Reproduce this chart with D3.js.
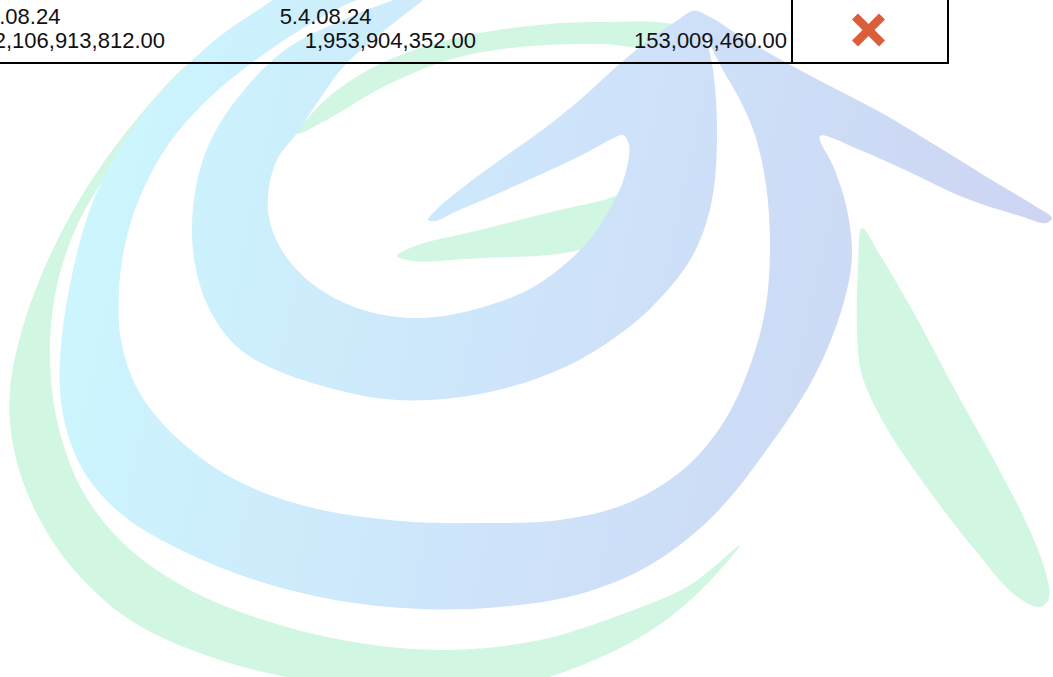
<!DOCTYPE html>
<html>
<head>
<meta charset="utf-8">
<script src="https://cdn.jsdelivr.net/npm/d3@7"></script>
<style>
  html, body { margin: 0; padding: 0; background: #ffffff; overflow: hidden; }
  svg { display: block; }
</style>
</head>
<body>
<svg id="chart" width="1053" height="677"></svg>
<script>
// ---------------- table data ----------------
const columns = ["c0", "c1", "c2"];
const headerRow = ["4.4.08.24", "5.4.08.24", ""];
const valueRow = [2106913812.00, 1953904352.00, 153009460.00];
const statusRow = ["✖"];

// ---------------- watermark logo outlines (decorative) ----------------
const logoGreenOuter = [[222,42],[190,62],[140,115],[95,175],[55,245],[25,320],[10,390],[14,450],[35,510],[70,565],[130,620],[220,660],[320,683],[420,693],[510,687],[580,666],[650,631],[700,591],[740,545],
  [690,585],[620,615],[540,640],[450,650],[360,643],[270,622],[190,590],[125,545],[82,490],[58,425],[50,360],[55,295],[75,230],[110,170],[155,115],[198,72]];
const logoGreenRight = [[862,228],[858,270],[857,330],[862,375],[885,425],[925,485],[975,550],[1015,595],[1040,607],[1049,598],[1045,570],[1025,520],[995,462],[955,390],[915,315],[880,255]];
const logoGreenSpike = [[397,256],[415,246],[480,230],[547,213],[600,201],[645,190],[650,225],[570,252],[480,258],[413,261]];
const logoGreenArc = [[297,134],[315,110],[340,88],[380,64],[440,42],[520,27],[600,22],[680,28],[680,48],[600,44],[520,47],[452,59],[385,86],[330,118]];
const logoBlueOuter = [[290,-8],[258,10],[215,40],[175,78],[140,118],[110,165],[88,215],[72,275],[62,335],[60,390],[68,435],[88,478],[125,517],[185,552],[255,580],[335,600],[420,609],[500,607],[580,594],[650,565],[712,517],[768,448],[815,375],[843,305],[852,255],[846,205],[834,168],[820,136],
  [860,150],[905,170],[965,198],[1020,216],[1046,223],[1052,218],[1035,206],[995,182],[935,145],[880,112],[830,86],[783,61],[740,36],[712,18],[695,11],
  [706,35],[720,65],[740,100],[755,135],[766,185],[770,245],[766,305],[752,360],[725,420],[685,468],[628,503],[560,520],[480,523],[400,521],[305,506],[232,478],[175,436],[138,390],[121,340],[119,290],[126,240],[142,192],[168,145],[205,102],[253,62],[300,30],[345,5],[375,-8]];
const logoBlueInner = [[420,-8],[350,17],[285,50],[240,95],[210,142],[195,192],[193,250],[206,302],[232,342],[265,365],[330,388],[397,400],[480,394],[563,368],[628,328],[665,293],[693,255],[711,205],[717,140],[713,70],[702,25],[695,11],
  [675,22],[645,43],[615,68],[582,98],[545,128],[500,160],[462,188],[438,208],[428,220],
  [436,221],[455,212],[490,197],[535,177],[580,156],[612,139],[623,135],[629,145],
  [625,175],[612,205],[585,245],[535,286],[480,308],[420,318],[363,310],[318,288],[287,258],[271,226],[268,195],[277,160],[297,133],
  [317,103],[345,65],[385,30],[430,-8]];

// ---------------- drawing ----------------
const W = 1053, H = 677;
const svg = d3.select("#chart");

const defs = svg.append("defs");
const grad = defs.append("linearGradient")
  .attr("id", "logoGrad")
  .attr("gradientUnits", "userSpaceOnUse")
  .attr("x1", 60).attr("y1", 200).attr("x2", 1050).attr("y2", 420);
grad.append("stop").attr("offset", 0).attr("stop-color", "#ccf7fe");
grad.append("stop").attr("offset", 0.5).attr("stop-color", "#cee3fa");
grad.append("stop").attr("offset", 1).attr("stop-color", "#cdd3f1");

const outline = d3.line().curve(d3.curveCatmullRomClosed.alpha(0.5));
const logo = svg.append("g").attr("class", "watermark");
const green = "#d1f6e2";
[logoGreenOuter, logoGreenRight, logoGreenSpike, logoGreenArc].forEach(pts => {
  logo.append("path").attr("d", outline(pts)).attr("fill", green);
});
[logoBlueOuter, logoBlueInner].forEach(pts => {
  logo.append("path").attr("d", outline(pts)).attr("fill", "url(#logoGrad)");
});

// table geometry through scales
const colScale = d3.scaleBand().domain(columns).range([-141, 792]).paddingInner(0).paddingOuter(0);
const rowScale = d3.scaleBand().domain(["header", "values"]).range([0, 63]);
const statusScale = d3.scaleBand().domain(["status"]).range([792, 948]);
const fmt = d3.format(",.2f");
const font = "'Liberation Sans', Arial, sans-serif";

const table = svg.append("g").attr("class", "table");

// header row: centred dates
table.selectAll("text.hdr").data(headerRow).join("text")
  .attr("class", "hdr")
  .attr("x", (d, i) => colScale(columns[i]) + colScale.bandwidth() / 2)
  .attr("y", 24)
  .attr("text-anchor", "middle")
  .attr("font-family", font).attr("font-size", 22).attr("fill", "#111")
  .text(d => d);

// value row: right aligned numbers
table.selectAll("text.val").data(valueRow).join("text")
  .attr("class", "val")
  .attr("x", (d, i) => colScale(columns[i]) + colScale.bandwidth() - 5)
  .attr("y", 48)
  .attr("text-anchor", "end")
  .attr("font-family", font).attr("font-size", 22).attr("fill", "#111")
  .text(d => fmt(d));

// borders
table.append("line")
  .attr("x1", 0).attr("x2", statusScale.range()[1] + 1)
  .attr("y1", rowScale.range()[1]).attr("y2", rowScale.range()[1])
  .attr("stroke", "#000").attr("stroke-width", 2);
[statusScale.range()[0], statusScale.range()[1]].forEach(x => {
  table.append("line")
    .attr("x1", x).attr("x2", x)
    .attr("y1", -2).attr("y2", rowScale.range()[1] + 1)
    .attr("stroke", "#000").attr("stroke-width", 2);
});

// status cross icon
const cx = statusScale("status") + statusScale.bandwidth() / 2 - 1.5;
const cy = (rowScale.range()[0] + rowScale.range()[1]) / 2 - 1.5;
const s = 13.5;
const cross = table.append("g").attr("class", "status")
  .attr("transform", `translate(${cx},${cy})`);
cross.selectAll("line").data(statusRow.flatMap(() => [[-1, -1, 1, 1], [-1, 1, 1, -1]])).join("line")
  .attr("x1", d => d[0] * s).attr("y1", d => d[1] * s)
  .attr("x2", d => d[2] * s).attr("y2", d => d[3] * s)
  .attr("stroke", "#db5e3b").attr("stroke-width", 8.5).attr("stroke-linecap", "butt");
</script>
</body>
</html>
